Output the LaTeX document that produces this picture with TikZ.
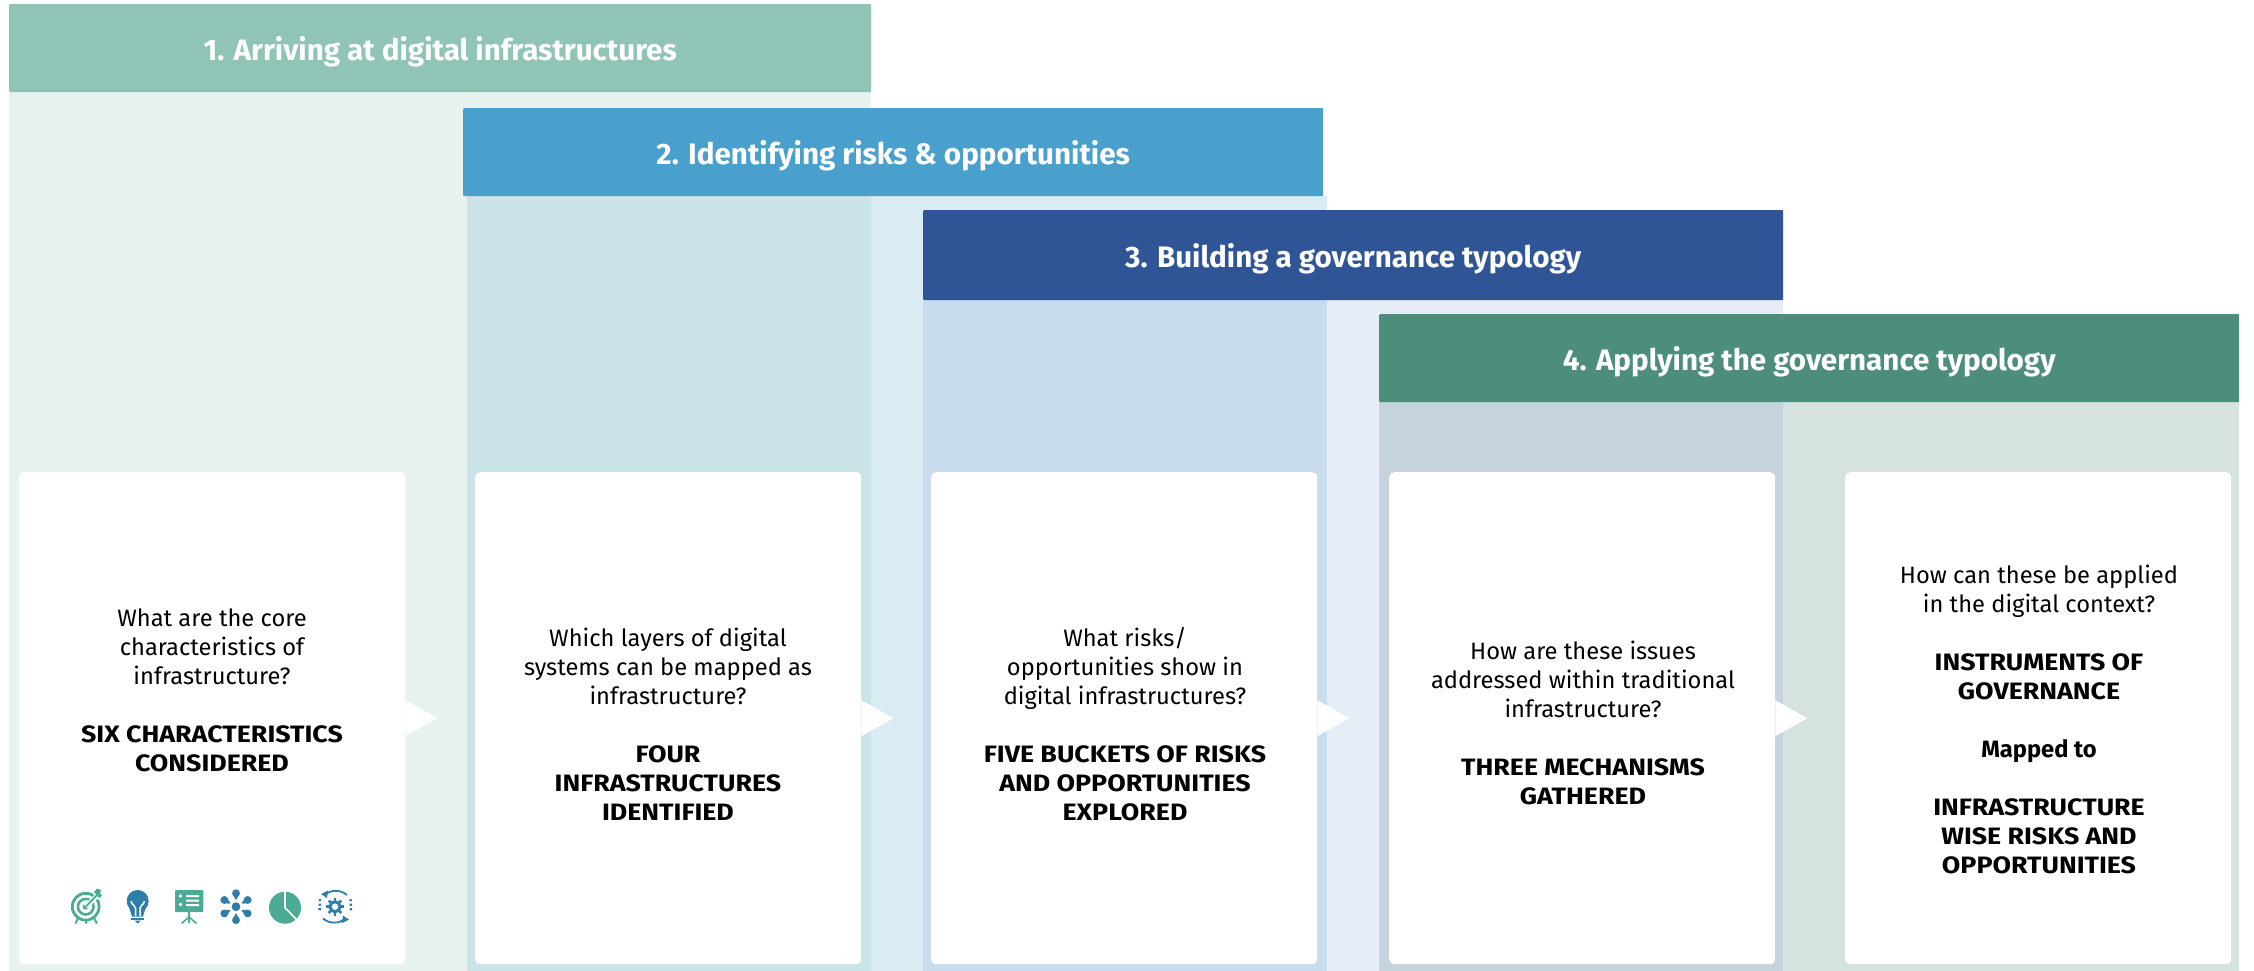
\documentclass[tikz,border=0pt]{standalone}
\usepackage{fontspec}
\setmainfont{Fira Sans}
\newfontfamily\capsfam[FakeStretch=1.13]{Fira Sans}
\newcommand{\capsb}[1]{{\capsfam\bfseries #1}}
\usetikzlibrary{calc}
\definecolor{hOne}{HTML}{8FC4B6}
\definecolor{hTwo}{HTML}{49A0CD}
\definecolor{hThree}{HTML}{2F5597}
\definecolor{hFour}{HTML}{4D8D7B}
\definecolor{pA}{HTML}{E8F2EE}
\definecolor{pB}{HTML}{CBE4E8}
\definecolor{pC}{HTML}{D9EBF3}
\definecolor{pD}{HTML}{C8DCEE}
\definecolor{pE}{HTML}{E6EDF7}
\definecolor{pF}{HTML}{C5D3DD}
\definecolor{pG}{HTML}{D5E2DF}
\definecolor{iTeal}{HTML}{4CAB95}
\definecolor{iBlue}{HTML}{2E7EA9}
\tikzset{
  x=1pt,y=-1pt,
  hdr/.style={anchor=north west,inner sep=0pt,minimum width=860pt,minimum height=88pt,text=white,
    text height=24pt,text depth=0pt,
    font=\fontsize{29.6}{34}\selectfont\bfseries,rounded corners=1pt},
  card/.style={fill=white,rounded corners=5pt,inner sep=0pt,minimum width=386pt,minimum height=492pt,anchor=north west},
  body/.style={align=center,inner sep=0pt,text=black,font=\fontsize{23.7}{29}\selectfont},
  pointer/.style={fill=white}
}
\newcommand{\pointerfrom}[1]{\fill[pointer] ($(#1.east)+(0,-18)$) -- ($(#1.east)+(32,0)$) -- ($(#1.east)+(0,18)$) -- cycle;}
\begin{document}
\begin{tikzpicture}
\useasboundingbox (0,0) rectangle (2254,971);
\fill[white] (0,0) rectangle (2254,971);
% panels
\fill[pA] (9,92) rectangle (467,971);
\fill[pA] (467,92) rectangle (871,196);
\fill[pB] (467,196) rectangle (871,971);
\fill[pC] (871,136) rectangle (923,971);
\fill[pC] (923,196) rectangle (1327,300);
\fill[pD] (923,300) rectangle (1327,971);
\fill[pE] (1327,300) rectangle (1379,971);
\fill[pE] (1379,300) rectangle (1783,314);
\fill[pF] (1379,402) rectangle (1783,971);
\fill[pG] (1783,402) rectangle (2239,971);
% headers
\node[hdr,fill=hOne,minimum width=862pt] (h1) at (9,4) {1. Arriving at digital infrastructures};
\node[hdr,fill=hTwo] (h2) at (463,108) {2. Identifying risks \& opportunities};
\node[hdr,fill=hThree,minimum height=90pt] (h3) at (923,210) {3. Building a governance typology};
\node[hdr,fill=hFour] (h4) at (1379,314) {4. Applying the governance typology};
% cards
\node[card] (c1) at (19,472) {};
\node[card] (c2) at (475,472) {};
\node[card] (c3) at (931,472) {};
\node[card] (c4) at (1389,472) {};
\node[card] (c5) at (1845,472) {};
\pointerfrom{c1}
\pointerfrom{c2}
\pointerfrom{c3}
\pointerfrom{c4}
% texts
\node[body] (t1) at (212,690) {What are the core\\characteristics of\\infrastructure?\\[29pt]\capsb{SIX CHARACTERISTICS}\\\capsb{CONSIDERED}};
\node[body] (t2) at (668,724) {Which layers of digital\\systems can be mapped as\\infrastructure?\\[29pt]\capsb{FOUR}\\\capsb{INFRASTRUCTURES}\\\capsb{IDENTIFIED}};
\node[body] (t3) at (1125,724) {What risks/\\opportunities show in\\digital infrastructures?\\[29pt]\capsb{FIVE BUCKETS OF RISKS}\\\capsb{AND OPPORTUNITIES}\\\capsb{EXPLORED}};
\node[body] (t4) at (1583,723) {How are these issues\\addressed within traditional\\infrastructure?\\[29pt]\capsb{THREE MECHANISMS}\\\capsb{GATHERED}};
\node[body] (t5) at (2039,719) {How can these be applied\\in the digital context?\\[29pt]\capsb{INSTRUMENTS OF}\\\capsb{GOVERNANCE}\\[29pt]\textbf{Mapped to}\\[29pt]\capsb{INFRASTRUCTURE}\\\capsb{WISE RISKS AND}\\\capsb{OPPORTUNITIES}};
% icon: target
\begin{scope}[iTeal]
\draw[line width=2.8pt] (85.7,906.7) circle (13.4);
\draw[line width=2.6pt] (85.7,906.7) circle (7.8);
\fill (85.7,906.7) circle (3);
\draw[white,line width=5pt] (85.7,906.7) -- (101,892);
\draw[line width=1.8pt] (85.7,906.7) -- (97,895);
\fill (94,892) -- (97,888.5) -- (101,890) -- (100,893) -- (102,895.5) -- (99,898) -- cycle;
\draw[line width=2pt] (78,918) -- (75.5,923.5) (86,921) -- (86,923.5) (94,918) -- (97,923.5);
\end{scope}
% icon: bulb
\begin{scope}[iBlue]
\fill (137.7,901) circle (11);
\fill (129,907) -- (146,907) -- (143,916.5) -- (132,916.5) -- cycle;
\fill (131,918) rectangle (144,920);
\fill (134.5,920.5) -- (141,920.5) -- (137.7,923.5) -- cycle;
\draw[white,line width=1.5pt] (131,901) .. controls (132,906) and (135,904) .. (135.5,908) -- (135.5,916);
\draw[white,line width=1.5pt] (144.5,901) .. controls (143.5,906) and (140.5,904) .. (140,908) -- (140,916);
\end{scope}
% icon: board
\begin{scope}[iTeal]
\fill[rounded corners=1pt] (175,890) rectangle (203.3,912);
\fill[white] (180.5,896) circle (1.9) (180.5,904.5) circle (1.9);
\fill[white] (186,895) rectangle (199,897) (186,899.5) rectangle (199,901.5) (186,904) rectangle (199,906);
\draw[line width=1.6pt] (189,912) -- (189,923) (181.5,923.5) -- (189,917) -- (196.5,923.5);
\end{scope}
% icon: flower
\begin{scope}[iBlue]
\fill (236,906.7) circle (4.4);
\foreach \a in {90,30,-30,-90,-150,150}{
  \fill ($(236,906.7)+(\a:13.5)$) circle (3.9);
  \fill ($(236,906.7)+(\a:7)+(\a+90:0.5)$) -- ($(236,906.7)+(\a:13.5)+(\a+90:3.6)$) -- ($(236,906.7)+(\a:13.5)+(\a-90:3.6)$) -- ($(236,906.7)+(\a:7)+(\a-90:0.5)$) -- cycle;
}
\end{scope}
% icon: pie
\fill[iTeal] (285,907.7) circle (16);
\draw[white,line width=1.6pt] (285,891) -- (285,907.7) -- (297,920);
% icon: cycle with gear
\begin{scope}[iBlue]
\draw[line width=3pt] (335,906.7) circle (5);
\foreach \a in {0,45,...,315}{
  \draw[line width=2.6pt] ($(335,906.7)+(\a:6)$) -- ($(335,906.7)+(\a:8.8)$);
}
\draw[line width=1.8pt] (325,895) .. controls (330,889.5) and (341,889.5) .. (347,895);
\fill (321,894) -- (328,890.5) -- (327,898) -- cycle;
\draw[line width=1.8pt] (323,918.5) .. controls (329,924) and (340,924) .. (345,918.5);
\fill (349,919.5) -- (342,923) -- (343,915.5) -- cycle;
\draw[line width=2.4pt,dash pattern=on 2.2pt off 2.4pt] (320,899) -- (319.5,912);
\draw[line width=2.4pt,dash pattern=on 2.2pt off 2.4pt] (350.5,899) -- (351,912);
\end{scope}
\end{tikzpicture}
\end{document}
